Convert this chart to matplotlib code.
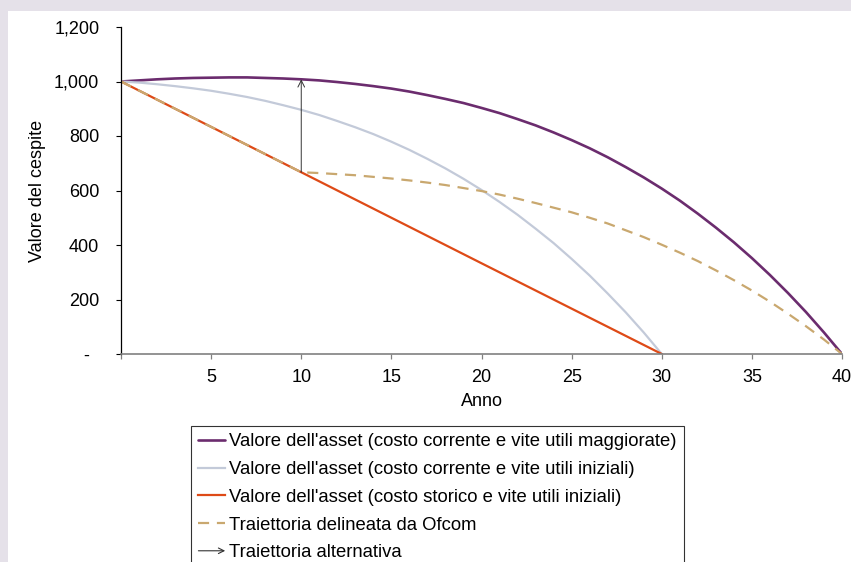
import matplotlib
matplotlib.use("Agg")
import matplotlib.pyplot as plt
from matplotlib.patches import Rectangle, FancyArrowPatch
from matplotlib.legend_handler import HandlerBase
from matplotlib.lines import Line2D
from matplotlib.transforms import ScaledTranslation

plt.rcParams['font.family'] = ['Liberation Sans', 'DejaVu Sans']

# ---- data ----
years_40 = list(range(0, 41))
purple_vals = [1000, 1004, 1008, 1011, 1013, 1014, 1015, 1015, 1013, 1011,
               1008, 1004, 998, 991, 983, 974, 963, 950, 936, 921,
               903, 884, 862, 839, 813, 785, 755, 722, 686, 648,
               607, 563, 515, 464, 410, 352, 290, 224, 154, 79, 0]
years_30 = list(range(0, 31))
grey_vals = [1000, 996, 990, 983, 975, 966, 955, 943, 929, 913,
             896, 877, 855, 832, 807, 779, 749, 716, 681, 643,
             602, 558, 511, 460, 407, 349, 288, 222, 153, 79, 0]
red_years = [0, 10, 20, 30]
red_vals = [1000, 667, 333, 0]
ofcom_years = [0, 10, 11, 12, 13, 14, 15, 16, 17, 18, 19, 20, 21, 22, 23, 24, 25,
               26, 27, 28, 29, 30, 31, 32, 33, 34, 35, 36, 37, 38, 39, 40]
ofcom_vals = [1000, 667, 664, 660, 656, 650, 644, 637, 629, 620, 609, 598, 585,
              570, 554, 537, 520, 500, 479, 454, 429, 401, 372, 341, 307, 271,
              233, 192, 148, 102, 53, 0]
arrow_year = 10
arrow_from = 667
arrow_to = 1008

labels = ["Valore dell'asset (costo corrente e vite utili maggiorate)",
          "Valore dell'asset (costo corrente e vite utili iniziali)",
          "Valore dell'asset (costo storico e vite utili iniziali)",
          "Traiettoria delineata da Ofcom",
          "Traiettoria alternativa"]
x_ticks = [0, 5, 10, 15, 20, 25, 30, 35, 40]
x_ticklabels = ['', '5', '10', '15', '20', '25', '30', '35', '40']
y_ticks = [0, 200, 400, 600, 800, 1000, 1200]
y_ticklabels = ['-', '200', '400', '600', '800', '1,000', '1,200']

c_purple = '#6b2c6e'
c_grey = '#c3cad9'
c_red = '#de4a17'
c_tan = '#c9a86f'
FS = 13
LFS = 13.3

fig = plt.figure(figsize=(8.51, 5.62), dpi=100)
fig.patch.set_facecolor('white')
bg = '#e5e1e9'
fig.patches.append(Rectangle((0, 1 - 11/562), 1, 11/562, transform=fig.transFigure,
                             facecolor=bg, edgecolor='none', zorder=-10))
fig.patches.append(Rectangle((0, 0), 8/851, 1, transform=fig.transFigure,
                             facecolor=bg, edgecolor='none', zorder=-10))

ax = fig.add_axes([121/851, 208/562, 721/851, 327/562])
ax.set_facecolor('none')

l1, = ax.plot(years_40, purple_vals, color=c_purple, lw=1.9, solid_capstyle='round')
l2, = ax.plot(years_30, grey_vals, color=c_grey, lw=1.6)
l3, = ax.plot(red_years, red_vals, color=c_red, lw=1.6)
l4, = ax.plot(ofcom_years, ofcom_vals, color=c_tan, lw=1.6, dashes=(5, 3.5))
ax.annotate('', xy=(arrow_year, arrow_to), xytext=(arrow_year, arrow_from),
            arrowprops=dict(arrowstyle='->', color='#333333', lw=0.7,
                            shrinkA=0, shrinkB=0, mutation_scale=12))

ax.set_xlim(0, 40)
ax.set_ylim(0, 1200)
ax.set_xticks(x_ticks)
ax.set_xticklabels(x_ticklabels)
ax.set_yticks(y_ticks)
ax.set_yticklabels(y_ticklabels)
ax.spines['top'].set_visible(False)
ax.spines['right'].set_visible(False)
ax.spines['left'].set_color('black')
ax.spines['left'].set_linewidth(0.9)
ax.spines['bottom'].set_color('#808080')
ax.spines['bottom'].set_linewidth(1.2)
ax.tick_params(axis='y', direction='out', length=3.6, width=0.8, color='black',
               labelsize=FS, pad=12)
ax.tick_params(axis='x', direction='out', length=3.6, width=0.9, color='#808080',
               labelsize=FS, pad=7)
for lbl in ax.get_xticklabels():
    lbl.set_clip_on(False)
ylbls = ax.get_yticklabels()
ylbls[0].set_transform(ylbls[0].get_transform() + ScaledTranslation(-10/100, 0, fig.dpi_scale_trans))

ax.set_ylabel('Valore del cespite', fontsize=FS, labelpad=6)
ax.set_xlabel('Anno', fontsize=FS, labelpad=5)


class ArrowHandler(HandlerBase):
    def create_artists(self, legend, orig_handle, xdescent, ydescent, width, height,
                       fontsize, trans):
        y = height / 2 - ydescent
        p = FancyArrowPatch((-xdescent, y), (-xdescent + width, y),
                            arrowstyle='->', mutation_scale=10, lw=0.8,
                            color='#333333', shrinkA=0, shrinkB=0, transform=trans)
        return [p]


arrow_handle = Line2D([], [], color='#333333')
leg = fig.legend([l1, l2, l3, l4, arrow_handle], labels,
                 loc='upper left', bbox_to_anchor=(191/851, 1 - 426/562),
                 bbox_transform=fig.transFigure, fontsize=LFS, frameon=True,
                 fancybox=False, edgecolor='black', handlelength=1.45,
                 handletextpad=0.2, labelspacing=0.58, borderpad=0.4,
                 borderaxespad=0, handler_map={arrow_handle: ArrowHandler()})
leg.get_frame().set_linewidth(0.8)

fig.savefig('out.png', dpi=100)
